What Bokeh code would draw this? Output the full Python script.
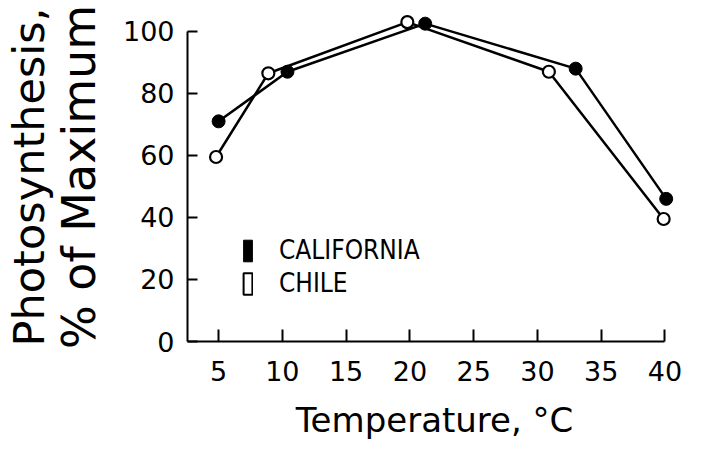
from bokeh.plotting import figure
from bokeh.models import (LinearAxis, FixedTicker, Range1d, Legend, LegendItem,
                          ColumnDataSource)
from bokeh.embed import file_html
from bokeh.resources import INLINE

# ---- data ----
temp_california = [5.0, 10.4, 21.2, 33.0, 40.1]
photo_california = [71.0, 87.0, 102.5, 88.0, 46.0]
temp_chile = [4.8, 8.9, 19.8, 30.9, 39.9]
photo_chile = [59.5, 86.5, 103.0, 87.0, 39.5]
series_names = ["CALIFORNIA", "CHILE"]
x_ticks = [5, 10, 15, 20, 25, 30, 35, 40]
y_ticks = [0, 20, 40, 60, 80, 100]
x_title = "Temperature, °C"
y_title_outer = "Photosynthesis,"
y_title_inner = "% of Maximum"

FONT = "DejaVu Sans"
LEGEND_FONT = "DejaVu Sans Condensed"

src_cal = ColumnDataSource(dict(x=temp_california, y=photo_california))
src_chi = ColumnDataSource(dict(x=temp_chile, y=photo_chile))

p = figure(width=698, height=442, output_backend="svg", toolbar_location=None,
           x_range=Range1d(2.56, 41.3), y_range=Range1d(0, 106.1),
           min_border_left=181, min_border_right=17, min_border_top=12,
           min_border_bottom=100)
p.outline_line_color = None
p.xgrid.visible = False
p.ygrid.visible = False
p.background_fill_color = "white"
p.border_fill_color = "white"

# series
p.line("x", "y", source=src_chi, line_color="black", line_width=2.5)
p.line("x", "y", source=src_cal, line_color="black", line_width=2.5)
p.scatter("x", "y", source=src_chi, size=12, marker="circle", fill_color="white",
          line_color="black", line_width=2.2)
p.scatter("x", "y", source=src_cal, size=13, marker="circle",
          fill_color="black", line_color="black", line_width=1)

# legend keys: tall rectangles, as in the reference (hidden renderers, shown only in legend)
r_cal = p.rect("x", "y", width=1, height=1, source=src_cal,
               fill_color="black", line_color="black", line_width=1, visible=False)
r_chi = p.rect("x", "y", width=1, height=1, source=src_chi,
               fill_color="white", line_color="black", line_width=2, visible=False)
legend = Legend(items=[LegendItem(label=series_names[0], renderers=[r_cal], index=0),
                       LegendItem(label=series_names[1], renderers=[r_chi], index=0)],
                location=(55, 43), orientation="vertical",
                glyph_width=11, glyph_height=27, label_height=27,
                label_standoff=26, spacing=3, padding=0, margin=0,
                border_line_alpha=0, background_fill_alpha=0,
                inactive_fill_alpha=0,
                label_text_font=LEGEND_FONT,
                label_text_font_size="26px", label_text_color="black")
p.add_layout(legend)

# x axis
xa = p.xaxis[0]
xa.ticker = FixedTicker(ticks=x_ticks)
xa.bounds = (2.56, 40)
xa.axis_line_width = 2
xa.major_tick_line_width = 2
xa.major_tick_in = 12
xa.major_tick_out = 0
xa.minor_tick_line_color = None
xa.major_label_text_font = FONT
xa.major_label_text_font_size = "27px"
xa.major_label_text_color = "black"
xa.major_label_standoff = 19
xa.axis_label = x_title
xa.axis_label_text_font = FONT
xa.axis_label_text_font_size = "34px"
xa.axis_label_text_font_style = "normal"
xa.axis_label_text_color = "black"
xa.axis_label_standoff = 16

# y axis (inner)
ya = p.yaxis[0]
ya.ticker = FixedTicker(ticks=y_ticks)
ya.bounds = (0, 100)
ya.axis_line_width = 2
ya.major_tick_line_width = 2
ya.major_tick_in = 10
ya.major_tick_out = 0
ya.minor_tick_line_color = None
ya.major_label_text_font = FONT
ya.major_label_text_font_size = "27px"
ya.major_label_text_color = "black"
ya.major_label_standoff = 13
ya.axis_label = y_title_inner
ya.axis_label_text_font = FONT
ya.axis_label_text_font_size = "46px"
ya.axis_label_text_font_style = "normal"
ya.axis_label_text_color = "black"
ya.axis_label_standoff = 14

# outer axis carrying only the first line of the y title
outer = LinearAxis(ticker=FixedTicker(ticks=[]), axis_line_color=None,
                   major_tick_line_color=None, minor_tick_line_color=None,
                   major_label_text_font_size="0px",
                   axis_label=y_title_outer, axis_label_text_font=FONT,
                   axis_label_text_font_size="43px",
                   axis_label_text_font_style="normal",
                   axis_label_text_color="black", axis_label_standoff=-5)
p.add_layout(outer, "left")

open("out.html", "w").write(file_html(p, INLINE))
